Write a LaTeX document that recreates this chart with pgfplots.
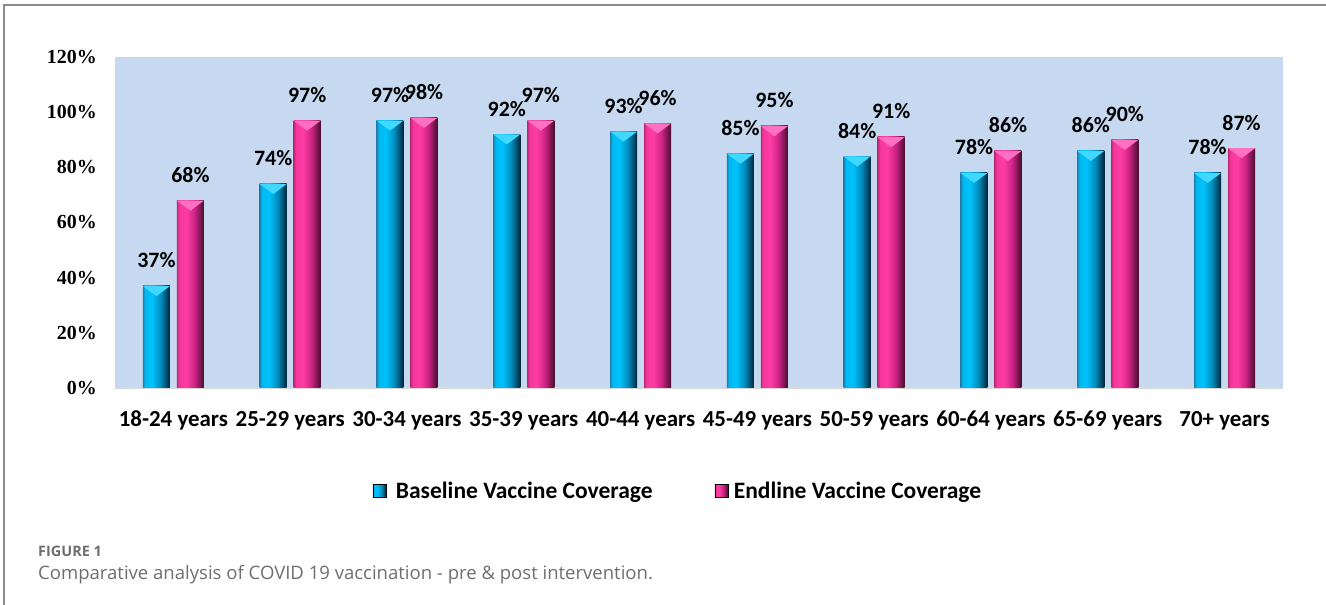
\documentclass[border=0pt]{standalone}
\usepackage{pgfplots}
\pgfplotsset{compat=1.18}
\usepackage{fontspec}
\setmainfont{Carlito}
\newfontfamily\tnr{Liberation Serif}
\newfontfamily\capfont{Open Sans}

\definecolor{bgblue}{HTML}{C6D9F0}
\definecolor{bA}{HTML}{1C82AE}
\definecolor{bB}{HTML}{00B8F0}
\definecolor{bC}{HTML}{00C2FC}
\definecolor{bD}{HTML}{008CBE}
\definecolor{bE}{HTML}{00263A}
\definecolor{pA}{HTML}{BC2A72}
\definecolor{pB}{HTML}{F4369C}
\definecolor{pC}{HTML}{FF3DA4}
\definecolor{pD}{HTML}{CC2284}
\definecolor{pE}{HTML}{460E2C}
\definecolor{btop}{HTML}{40D8FF}
\definecolor{ptop}{HTML}{FF70C2}
\definecolor{framegray}{HTML}{8C8C8C}
\definecolor{capgray}{HTML}{6E6E6E}

\pgfdeclarehorizontalshading{bluebar}{100bp}{color(0bp)=(bA); color(25bp)=(bA); color(29bp)=(bB); color(42bp)=(bC); color(58bp)=(bD); color(75bp)=(bE); color(100bp)=(bE)}
\pgfdeclarehorizontalshading{pinkbar}{100bp}{color(0bp)=(pA); color(25bp)=(pA); color(29bp)=(pB); color(42bp)=(pC); color(58bp)=(pD); color(75bp)=(pE); color(100bp)=(pE)}

\pgfplotstableread{
x base end
0 37 68
1 74 97
2 97 98
3 92 97
4 93 96
5 85 95
6 84 91
7 78 86
8 86 90
9 78 87
}\datatable

\begin{document}
\begin{tikzpicture}[x=1bp,y=1bp]
\useasboundingbox (0,0) rectangle (1326,605);
\draw[framegray, line width=1.5bp] (4,0) -- (4,600) -- (1326,600);
\begin{axis}[
  at={(115bp,217bp)}, anchor=south west,
  scale only axis, width=1168bp, height=331bp,
  xmin=-0.5, xmax=9.5, ymin=0, ymax=120,
  ybar, bar width=27bp,
  axis background/.style={fill=bgblue},
  axis lines*=left,
  x axis line style={draw=black!15, line width=2bp},
  y axis line style={draw=none},
  major tick length=0pt,
  xtick={0,...,9},
  xticklabels={18-24 years,25-29 years,30-34 years,35-39 years,40-44 years,45-49 years,50-59 years,60-64 years,65-69 years,70+ years},
  xticklabel style={anchor=base, inner sep=0pt, yshift=-39bp, font=\bfseries\fontsize{23}{27}\selectfont},
  ytick={0,20,...,120},
  yticklabels={0\%,20\%,40\%,60\%,80\%,100\%,120\%},
  yticklabel style={anchor=east, inner sep=0pt, xshift=-18bp, font=\tnr\bfseries\fontsize{20}{24}\selectfont},
  legend columns=2,
  legend style={at={(0.482,-0.311)}, anchor=center, draw=none, fill=none,
     font=\bfseries\fontsize{23.6}{27}\selectfont,
     /tikz/every even column/.append style={column sep=60bp}},
  clip=false,
  valnode/.style={nodes near coords={\pgfmathprintnumber[assume math mode=true]{\pgfplotspointmeta}\%},
     every node near coord/.append style={anchor=base, inner sep=0pt, yshift=18bp, text=black, font=\bfseries\fontsize{22}{26}\selectfont}},
]
\addlegendimage{legend image code/.code={\shade[shading=bluebar] (0bp,-6.5bp) rectangle (13bp,6.5bp); \path[draw=none, fill=none] (0bp,-0.1bp) rectangle (21bp,0.1bp);}}
\addlegendentry{Baseline Vaccine Coverage}
\addlegendimage{legend image code/.code={\shade[shading=pinkbar] (0bp,-6.5bp) rectangle (13bp,6.5bp); \path[draw=none, fill=none] (0bp,-0.1bp) rectangle (17bp,0.1bp);}}
\addlegendentry{Endline Vaccine Coverage}
\pgfplotsinvokeforeach{0,...,9}{
\addplot[forget plot, draw=none, shading=bluebar, bar shift=-17bp, valnode,
  x filter/.expression={x==#1 ? x : nan}] table[x=x,y=base]{\datatable};
\addplot[forget plot, draw=none, shading=pinkbar, bar shift=17bp, valnode,
  x filter/.expression={x==#1 ? x : nan}] table[x=x,y=end]{\datatable};
}
\addplot[forget plot, draw=none, fill=none, bar shift=-17bp,
  nodes near coords={\tikz[x=1bp,y=1bp]\fill[btop] (0,0)--(27,0)--(13.5,-10)--cycle;},
  every node near coord/.append style={anchor=north, inner sep=0pt}
  ] table[x=x,y=base]{\datatable};
\addplot[forget plot, draw=none, fill=none, bar shift=17bp,
  nodes near coords={\tikz[x=1bp,y=1bp]\fill[ptop] (0,0)--(27,0)--(13.5,-10)--cycle;},
  every node near coord/.append style={anchor=north, inner sep=0pt}
  ] table[x=x,y=end]{\datatable};
\end{axis}
\node[anchor=base west, inner sep=0pt, text=capgray] at (38,48) {\capfont\bfseries\fontsize{14.5}{17}\selectfont FIGURE 1};
\node[anchor=base west, inner sep=0pt, text=capgray] at (38,25) {\capfont\fontsize{18.6}{22}\selectfont Comparative analysis of COVID 19 vaccination - pre \& post intervention.};
\end{tikzpicture}
\end{document}
